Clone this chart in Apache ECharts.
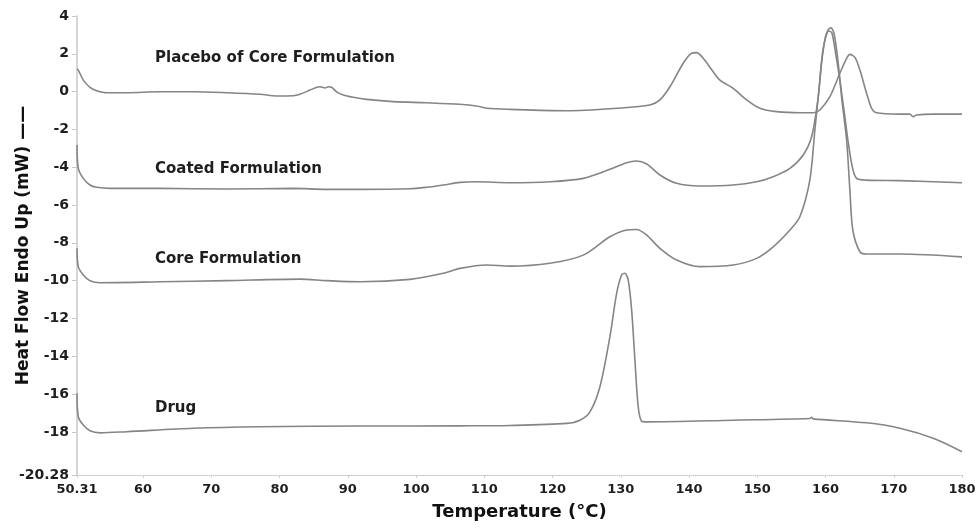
<!DOCTYPE html>
<html>
<head>
<meta charset="utf-8">
<script src="https://cdn.jsdelivr.net/npm/echarts@6/dist/echarts.min.js"></script>
<style>
html,body{margin:0;padding:0;background:#fff;}
#chart{width:979px;height:529px;}
</style>
</head>
<body>
<div id="chart"></div>
<script>
// ---- data (Temperature °C, Heat Flow mW) ----
var xTicks = [50.31, 60, 70, 80, 90, 100, 110, 120, 130, 140, 150, 160, 170, 180];
var yTicks = [-20.28, -18, -16, -14, -12, -10, -8, -6, -4, -2, 0, 2, 4];

var seriesNames = ["Placebo of Core Formulation", "Coated Formulation", "Core Formulation", "Drug"];

var placeboT  = [50.31, 50.5, 51.23, 52.21, 53.2, 54.66, 57.6, 62.47, 67.35, 72.24, 77.12, 79.57, 82.0, 82.98, 84.45, 85.43, 85.91, 86.65, 87.13, 87.63, 88.36, 89.33, 90.79, 92.76, 96.65, 101.55, 106.43, 108.87, 110.34, 113.75, 122.06, 129.39, 134.27, 135.73, 137.2, 139.15, 140.38, 141.11, 142.08, 143.54, 144.52, 146.47, 148.43, 150.38, 152.83, 156.24, 158.19, 159.17, 160.64, 162.1, 163.09, 163.57, 164.31, 165.04, 166.02, 166.75, 167.48, 170.9, 172.36, 172.84, 173.34, 175.78, 180];
var placeboHF = [1.2, 1.14, 0.61, 0.23, 0.05, -0.06, -0.06, -0.01, -0.01, -0.06, -0.14, -0.23, -0.22, -0.14, 0.08, 0.23, 0.26, 0.19, 0.26, 0.23, -0.01, -0.18, -0.30, -0.41, -0.53, -0.59, -0.67, -0.76, -0.88, -0.94, -1.01, -0.88, -0.71, -0.44, 0.26, 1.50, 2.03, 2.06, 1.76, 1.05, 0.61, 0.17, -0.44, -0.88, -1.06, -1.12, -1.12, -0.97, -0.27, 0.97, 1.76, 1.97, 1.81, 1.14, -0.09, -0.88, -1.12, -1.19, -1.19, -1.33, -1.24, -1.19, -1.19];

var coatedT  = [50.31, 50.5, 51.23, 52.21, 53.2, 55.14, 62.47, 72.24, 82.0, 86.9, 91.8, 99.1, 101.55, 104.0, 106.43, 108.87, 113.75, 119.6, 124.5, 128.4, 130.85, 132.3, 133.8, 135.73, 138.18, 141.6, 146.47, 149.9, 152.33, 154.78, 156.73, 157.96, 158.88, 159.47, 160.05, 160.5, 160.94, 161.52, 162.1, 162.7, 163.28, 163.87, 164.55, 166.02, 170.9, 180];
var coatedHF = [-2.83, -4.06, -4.59, -4.94, -5.06, -5.12, -5.12, -5.15, -5.12, -5.17, -5.17, -5.14, -5.06, -4.94, -4.80, -4.77, -4.82, -4.77, -4.59, -4.11, -3.76, -3.67, -3.83, -4.41, -4.85, -4.99, -4.94, -4.77, -4.50, -4.06, -3.35, -2.39, -0.44, 1.67, 2.99, 3.21, 3.10, 1.94, 0.61, -0.97, -2.56, -3.88, -4.59, -4.68, -4.71, -4.82];

var coreT  = [50.31, 50.5, 51.23, 52.21, 53.68, 62.47, 72.24, 82.98, 86.9, 91.8, 99.1, 103.98, 106.43, 110.34, 113.75, 119.6, 124.5, 128.4, 130.85, 132.3, 133.8, 135.73, 138.18, 141.6, 146.47, 149.9, 152.33, 154.78, 156.24, 157.7, 158.44, 159.03, 159.62, 160.35, 160.79, 161.23, 161.81, 162.4, 163.09, 163.57, 164.0, 165.04, 166.02, 170.9, 180];
var coreHF = [-8.29, -9.26, -9.70, -10.0, -10.11, -10.06, -10.0, -9.92, -10.0, -10.06, -9.93, -9.61, -9.35, -9.17, -9.23, -9.08, -8.65, -7.68, -7.32, -7.29, -7.59, -8.29, -8.91, -9.26, -9.17, -8.82, -8.21, -7.32, -6.62, -4.68, -2.03, 0.08, 2.20, 3.26, 3.37, 3.10, 1.67, -0.44, -2.56, -5.21, -7.32, -8.47, -8.59, -8.59, -8.74];

var drugT  = [50.31, 50.5, 51.23, 52.21, 53.68, 57.6, 67.35, 77.12, 91.8, 106.43, 113.75, 122.06, 124.01, 125.48, 126.94, 128.4, 129.39, 130.12, 130.6, 131.09, 131.59, 132.07, 132.55, 133.05, 133.78, 146.47, 157.7, 157.96, 158.19, 166.02, 170.9, 175.78, 180];
var drugHF = [-15.96, -17.2, -17.64, -17.94, -18.05, -17.99, -17.81, -17.73, -17.69, -17.68, -17.66, -17.55, -17.38, -16.94, -15.61, -12.97, -10.67, -9.70, -9.61, -9.97, -11.56, -14.2, -16.67, -17.43, -17.47, -17.38, -17.29, -17.23, -17.31, -17.52, -17.81, -18.34, -19.05];

// ---- build ----
function pairs(t, v) { return t.map(function (x, i) { return [x, v[i]]; }); }
var FONT = "DejaVu Sans";
var LINE = "#858585";

function labelPoint(name, coord) {
  return {
    symbol: "circle", symbolSize: 0, silent: true,
    label: { show: true, position: "right", distance: 0, formatter: name,
             color: "#1e1e1e", fontFamily: FONT, fontWeight: "bold", fontSize: 15 },
    data: [{ coord: coord }]
  };
}

function lineSeries(name, t, v, coord) {
  return {
    name: name, type: "line", data: pairs(t, v),
    showSymbol: false, smooth: 0.3,
    lineStyle: { color: LINE, width: 1.6 },
    itemStyle: { color: LINE },
    animation: false,
    markPoint: labelPoint(name, coord)
  };
}

var chart = echarts.init(document.getElementById("chart"), null, { renderer: "canvas" });
chart.setOption({
  backgroundColor: "#ffffff",
  animation: false,
  grid: { left: 77, right: 17, top: 16, bottom: 54, containLabel: false, outerBoundsMode: "none" },
  xAxis: {
    type: "value", min: 50.31, max: 180,
    name: "Temperature (°C)", nameLocation: "middle", nameGap: 28, nameMoveOverlap: false,
    nameTextStyle: { color: "#111", fontFamily: FONT, fontWeight: "bold", fontSize: 18 },
    axisLine: { show: true, onZero: false, lineStyle: { color: "#c8c8c8", width: 1, type: "dotted" } },
    axisTick: { show: true, length: 3, customValues: xTicks, lineStyle: { color: "#d0d0d0" } },
    axisLabel: { customValues: xTicks, margin: 8, color: "#1e1e1e", fontFamily: FONT, fontWeight: "bold", fontSize: 13,
                 formatter: function (v) { return String(v); } },
    splitLine: { show: false }
  },
  yAxis: {
    type: "value", min: -20.28, max: 4,
    name: "Heat Flow Endo Up (mW) ——", nameLocation: "middle", nameGap: 45, nameRotate: 90, nameMoveOverlap: false,
    nameTextStyle: { color: "#111", fontFamily: FONT, fontWeight: "bold", fontSize: 17 },
    axisLine: { show: true, onZero: false, lineStyle: { color: "#c8c8c8", width: 1.5 } },
    axisTick: { show: true, length: 5, customValues: yTicks, lineStyle: { color: "#c8c8c8" } },
    axisLabel: { customValues: yTicks, margin: 8, color: "#1e1e1e", fontFamily: FONT, fontWeight: "bold", fontSize: 14,
                 formatter: function (v) { return String(v); } },
    splitLine: { show: false }
  },
  series: [
    lineSeries(seriesNames[0], placeboT, placeboHF, [61.74, 1.78]),
    lineSeries(seriesNames[1], coatedT, coatedHF, [61.74, -4.10]),
    lineSeries(seriesNames[2], coreT, coreHF, [61.74, -8.86]),
    lineSeries(seriesNames[3], drugT, drugHF, [61.74, -16.74])
  ]
});
</script>
</body>
</html>
